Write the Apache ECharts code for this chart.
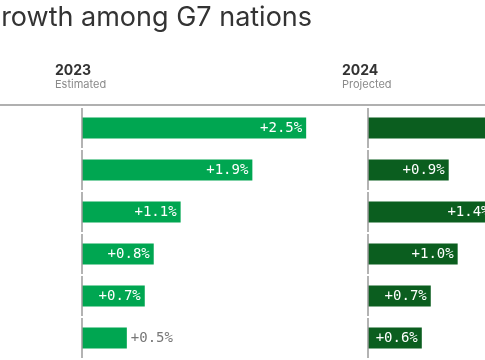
<!DOCTYPE html>
<html>
<head>
<meta charset="utf-8">
<script src="https://cdn.jsdelivr.net/npm/echarts@6/dist/echarts.min.js"></script>
<style>
  html, body { margin: 0; padding: 0; background: #fff; }
  #chart { width: 485px; height: 360px; }
</style>
</head>
<body>
<div id="chart"></div>
<script>
const countries = ['United States', 'Japan', 'Canada', 'France', 'Italy', 'United Kingdom'];
const growth2023 = [2.5, 1.9, 1.1, 0.8, 0.7, 0.5];
const growth2024 = [2.1, 0.9, 1.4, 1.0, 0.7, 0.6];
const panelYears = ['2023', '2024'];
const panelNotes = ['Estimated', 'Projected'];
const titleText = 'Growth among G7 nations';

const fmt = v => '+' + v.toFixed(1) + '%';
const MONO = '"DejaVu Sans Mono", monospace';
const SANS = 'Inter, "Noto Sans", sans-serif';

function barData(values) {
  return values.map(v => {
    const inside = v >= 0.55;
    return {
      value: v,
      label: inside
        ? { position: 'insideRight', distance: 4, color: '#ffffff' }
        : { position: 'right', distance: 4, color: '#777777' }
    };
  });
}

function zeroLine(gridIdx) {
  return {
    type: 'custom',
    xAxisIndex: gridIdx,
    yAxisIndex: gridIdx,
    silent: true,
    z: 5,
    data: countries.map((c, i) => [0, i]),
    renderItem: function (params, api) {
      const p = api.coord([0, api.value(1)]);
      const h = api.size([0, 1])[1];
      return {
        type: 'line',
        shape: { x1: p[0], y1: p[1] - h / 2 + 1, x2: p[0], y2: p[1] + h / 2 - 1 },
        style: { stroke: '#9a9a9a', lineWidth: 1.5 }
      };
    }
  };
}

const chart = echarts.init(document.getElementById('chart'), null, { renderer: 'canvas' });

const option = {
  animation: false,
  backgroundColor: '#ffffff',
  grid: [
    { left: 82, top: 107, width: 269, height: 252, outerBoundsMode: 'none', containLabel: false },
    { left: 368, top: 107, width: 269, height: 252, outerBoundsMode: 'none', containLabel: false }
  ],
  xAxis: [0, 1].map(i => ({
    type: 'value', gridIndex: i, min: 0, max: 3, show: false
  })),
  yAxis: [0, 1].map(i => ({
    type: 'category', gridIndex: i, data: countries, inverse: true,
    axisLine: { show: false }, axisTick: { show: false }, axisLabel: { show: false }
  })),
  series: [
    {
      type: 'bar', xAxisIndex: 0, yAxisIndex: 0, barWidth: '50%',
      data: barData(growth2023),
      itemStyle: { color: '#00a651' },
      label: { show: true, formatter: p => fmt(p.value), fontFamily: MONO, fontSize: 14 }
    },
    {
      type: 'bar', xAxisIndex: 1, yAxisIndex: 1, barWidth: '50%',
      data: barData(growth2024),
      itemStyle: { color: '#0b5e1f' },
      label: { show: true, formatter: p => fmt(p.value), fontFamily: MONO, fontSize: 14 }
    },
    zeroLine(0),
    zeroLine(1)
  ],
  graphic: [
    { type: 'text', left: -19, top: 4, style: { text: titleText, font: '400 27px ' + SANS, fill: '#333333' } },
    { type: 'text', left: 55, top: 64, style: { text: panelYears[0], font: '700 14px ' + SANS, fill: '#333333' } },
    { type: 'text', left: 55, top: 79, style: { text: panelNotes[0], font: '400 11px ' + SANS, fill: '#8a8a8a' } },
    { type: 'text', left: 342, top: 64, style: { text: panelYears[1], font: '700 14px ' + SANS, fill: '#333333' } },
    { type: 'text', left: 342, top: 79, style: { text: panelNotes[1], font: '400 11px ' + SANS, fill: '#8a8a8a' } },
    { type: 'rect', left: 0, top: 104, shape: { width: 485, height: 2 }, style: { fill: '#b0b0b0' } }
  ]
};
chart.setOption(option);
</script>
</body>
</html>
